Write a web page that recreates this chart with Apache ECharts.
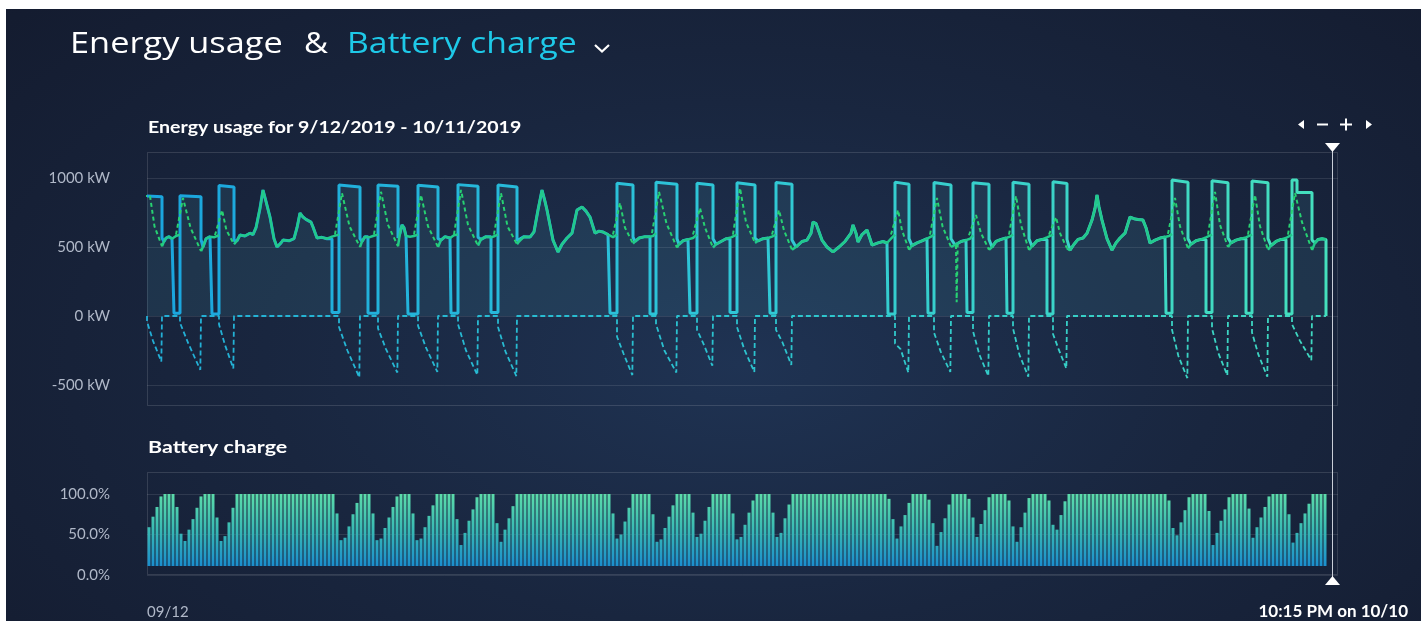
<!DOCTYPE html>
<html>
<head>
<meta charset="utf-8">
<title>Energy usage &amp; Battery charge</title>
<script src="https://cdn.jsdelivr.net/npm/echarts@6/dist/echarts.min.js"></script>
<style>
  html, body { margin: 0; padding: 0; width: 1421px; height: 621px; overflow: hidden; background: #ffffff; }
  #panel { position: absolute; left: 6px; top: 9px; width: 1415px; height: 612px;
    background: radial-gradient(ellipse 75% 95% at 52% 58%, #1f3353 0%, #19263f 45%, #131a2d 100%); }
  #chart { position: absolute; left: 0; top: 0; width: 1421px; height: 621px; }
</style>
</head>
<body>
<div id="panel"></div>
<div id="chart"></div>
<script>
// ---------------------------------------------------------------------------
// Data. Time is in hours from the start of the window (09/12), x axis 0 → 714.6 h.
// ---------------------------------------------------------------------------
const axisEndHour = 714.6;
const dataEndHour = 707.4;

const energyTicks = [-500, 0, 500, 1000];
const chargeTicks = [0, 50, 100];
const startLabel = '09/12';
const cursorLabel = '10:15 PM on 10/10';

// One entry per charge cycle
const lowStart    = [null, 16.2, 39.0, 111.0, 132.6, 156.6, 182.4, 206.4, 277.8, 301.8, 325.8, 349.8, 373.8, 444.6, 468.6, 492.0, 516.0, 540.0, 611.4, 635.4, 659.4, 683.4];
const chargeStart = [0, 19.8, 43.2, 115.2, 138.6, 162.6, 186.6, 210.6, 282.0, 305.4, 330.0, 354.0, 377.4, 448.8, 472.2, 495.6, 519.6, 543.6, 615.0, 639.0, 663.0, 687.0];
const chargeEnd   = [9.0, 32.4, 52.2, 127.8, 150.6, 174.6, 198.6, 222.0, 291.6, 318.0, 339.6, 364.8, 387.0, 457.2, 482.4, 505.2, 529.2, 552.0, 624.6, 648.6, 672.6, 699.0];

// Grid demand (kW) around each cycle
const demandLow     = [null, 20, 15, 25, 20, 15, 20, 25, 20, 15, 20, 25, 20, 15, 20, 25, 20, 15, 20, 25, 20, 15];
const demandTop     = [870, 872, 945, 950, 950, 948, 952, 950, 962, 970, 962, 965, 968, 970, 968, 965, 970, 972, 985, 980, 978, 985];
const demandTopLate = [865, 865, 935, 935, 940, 935, 940, 935, 950, 955, 950, 950, 955, 955, 950, 955, 955, 960, 970, 965, 965, 895];
const demandStepAt  = [null, null, null, null, null, null, null, null, null, null, null, null, null, null, null, null, null, null, null, null, null, 690.0];
const demandAfter   = [565, 555, 545, 560, 565, 560, 570, 545, 572, 560, 560, 565, 550, 560, 560, 555, 560, 555, 560, 565, 560, 550];

// Building load during each cycle (kW)
const loadPeak = [870, 855, 768, 890, 900, 877, 913, 890, 819, 900, 783, 927, 768, 768, 855, 732, 870, 717, 855, 900, 877, 891];
const loadMid  = [650, 640, 620, 650, 660, 650, 660, 650, 640, 670, 640, 680, 620, 620, 650, 600, 660, 600, 650, 660, 650, 680];
const loadDip  = [[485.4, 515], [485.8, 100], [486.4, 515]];

// Battery power during each cycle (kW, negative)
const batteryKwStart = [-40, -50, -60, -80, -90, -70, -60, -80, -150, -60, -100, -80, -100, -200, -120, -110, -90, -130, -100, -90, -120, -60];
const batteryKwMid   = [-180, -200, -210, -250, -240, -230, -250, -260, -270, -250, -200, -240, -190, -240, -260, -280, -280, -240, -290, -270, -280, -180];
const batteryKwEnd   = [-330, -390, -380, -445, -410, -405, -428, -435, -428, -410, -360, -405, -355, -410, -405, -435, -440, -380, -450, -430, -440, -320];

// Building load between cycles: [hour, kW]
const loadSegments = [
  [[9.0,505],[10.2,540],[11.4,565],[13.2,575],[15.0,560],[17.4,580],[19.8,590]],
  [[32.4,470],[33.6,500],[35.4,560],[37.8,575],[40.2,570],[43.2,585]],
  [[52.2,520],[54.0,545],[55.8,587],[58.8,580],[61.8,600],[63.6,590],[65.4,640],[67.8,780],[69.6,913],[71.4,830],[73.8,717],[76.2,560],[78.0,500],[80.4,530],[81.6,550],[85.2,545],[88.2,560],[90.0,640],[91.8,746],[93.6,717],[95.4,700],[96.6,705],[98.4,680],[99.6,645],[102.0,565],[105.0,570],[108.0,560],[111.0,575],[115.2,590]],
  [[127.8,500],[129.0,540],[130.8,575],[133.2,570],[135.6,580],[138.6,590]],
  [[150.6,505],[151.8,600],[153.0,660],[154.2,640],[155.4,580],[157.8,575],[160.2,580],[162.6,590]],
  [[174.6,500],[176.4,550],[178.8,575],[181.8,565],[184.2,585],[186.6,590]],
  [[198.6,510],[200.4,555],[203.4,575],[206.4,570],[208.8,580],[210.6,590]],
  [[222.0,520],[223.2,540],[226.2,575],[229.8,572],[232.2,610],[234.6,768],[237.0,913],[238.8,830],[240.0,768],[243.6,550],[246.6,464],[249.0,520],[252.0,565],[255.0,600],[258.0,768],[261.0,790],[263.4,760],[265.8,717],[268.8,601],[271.2,615],[273.6,609],[276.6,590],[279.6,572],[282.0,590]],
  [[291.6,525],[292.8,540],[295.2,565],[298.8,575],[301.8,575],[303.6,580],[305.4,600]],
  [[318.0,495],[319.2,520],[321.6,545],[324.6,555],[327.6,565],[330.0,590]],
  [[339.6,495],[341.4,520],[344.4,540],[347.4,560],[350.4,570],[354.0,590]],
  [[364.8,530],[366.6,545],[369.6,560],[372.6,565],[375.0,575],[377.4,590]],
  [[387.0,480],[389.4,500],[393.0,540],[396.0,550],[398.4,600],[399.6,681],[401.4,670],[402.6,660],[405.0,550],[408.0,500],[411.6,464],[415.2,500],[418.8,540],[420.0,550],[422.4,600],[423.6,660],[425.4,600],[426.6,536],[429.0,590],[432.0,623],[433.8,560],[435.0,514],[438.6,530],[441.6,540],[444.0,529],[446.4,560],[448.8,590]],
  [[457.2,480],[459.0,510],[462.0,530],[465.0,545],[468.0,560],[470.4,575],[472.2,590]],
  [[482.4,500],[484.8,515],[488.4,540],[491.4,550],[493.8,560],[495.6,585]],
  [[505.2,480],[507.0,500],[509.4,540],[512.4,555],[515.4,565],[517.8,575],[519.6,590]],
  [[529.2,478],[531.0,505],[534.0,545],[537.0,555],[540.0,570],[543.6,590]],
  [[552.0,490],[553.8,478],[556.2,520],[558.6,555],[561.6,565],[564.0,600],[567.0,695],[568.8,780],[570.0,877],[571.2,790],[573.0,695],[576.0,560],[579.0,478],[581.4,530],[583.8,565],[586.8,600],[589.8,717],[592.2,705],[594.6,700],[597.6,695],[599.4,640],[601.8,529],[604.8,550],[607.8,565],[610.8,572],[613.2,580],[615.0,595]],
  [[624.6,490],[626.4,520],[629.4,545],[632.4,555],[635.4,570],[639.0,590]],
  [[648.6,500],[650.4,530],[653.4,550],[656.4,560],[659.4,570],[663.0,590]],
  [[672.6,480],[674.4,510],[677.4,540],[680.4,555],[683.4,565],[687.0,590]],
  [[699.0,478],[700.8,530],[702.6,555],[705.0,560],[707.4,555]]
];

// Battery state of charge (%), one reading every 2.4 h from 1.2 h
const chargeFirstHour = 1.2;
const chargeStepHours = 2.4;
const batteryCharge = [
  59, 72, 84, 97, 100, 100, 100,
  84, 51, 42, 56, 69, 83, 97, 100, 100,
  100, 71, 42, 48, 65, 83, 100,
  100, 100, 100, 100, 100, 100, 100, 100, 100, 100, 100, 100, 100, 100, 100, 100, 100, 100, 100, 100, 100, 100, 100, 100,
  76, 43, 46, 60, 75, 89, 100, 100, 100,
  76, 43, 45, 58, 71, 84, 97, 100, 100, 100,
  76, 43, 45, 59, 73, 86, 100, 100, 100, 100,
  100, 69, 37, 52, 67, 81, 96, 100, 100, 100,
  100, 64, 41, 56, 70, 85, 100,
  100, 100, 100, 100, 100, 100, 100, 100, 100, 100, 100, 100, 100, 100, 100, 100, 100, 100, 100, 100, 100, 100, 100,
  76, 45, 50, 66, 83, 100, 100, 100, 100, 100,
  75, 41, 44, 58, 72, 86, 100, 100, 100, 100,
  77, 47, 51, 67, 84, 100, 100, 100, 100, 100,
  76, 44, 47, 62, 77, 92, 100, 100, 100, 100,
  77, 47, 52, 70, 87, 100,
  100, 100, 100, 100, 100, 100, 100, 100, 100, 100, 100, 100, 100, 100, 100, 100, 100, 100, 100, 100, 100, 100, 100,
  94, 69, 45, 60, 74, 89, 100, 100, 100, 100,
  93, 64, 36, 53, 70, 87, 100, 100, 100, 100,
  94, 71, 47, 63, 80, 96, 100, 100, 100, 100,
  92, 60, 41, 59, 77, 95, 100, 100, 100, 100,
  92, 62, 56, 74, 91, 100,
  100, 100, 100, 100, 100, 100, 100, 100, 100, 100, 100, 100, 100, 100, 100, 100, 100, 100, 100, 100, 100, 100, 100, 100,
  92, 58, 49, 65, 80, 96, 100, 100, 100, 100,
  79, 37, 52, 67, 81, 96, 100, 100, 100, 100,
  82, 46, 59, 71, 84, 97, 100, 100, 100, 100,
  75, 40, 52, 64, 76, 88, 100, 100, 100, 100
];

// ---------------------------------------------------------------------------
// Series builders
// ---------------------------------------------------------------------------
function buildDemand() {
  const pts = [];
  chargeStart.forEach((p, k) => {
    if (lowStart[k] !== null) {
      const prevEnd = chargeEnd[k - 1];
      loadSegments[k - 1].forEach(pt => {
        if (pt[0] > prevEnd && pt[0] < lowStart[k]) pts.push(pt);
      });
      pts.push([lowStart[k], pts[pts.length - 1][1]]);
      pts.push([lowStart[k], demandLow[k]]);
      pts.push([p, demandLow[k]]);
    }
    pts.push([p, demandTop[k]]);
    if (demandStepAt[k] !== null) {
      pts.push([demandStepAt[k], demandTop[k]]);
      pts.push([demandStepAt[k], demandTopLate[k]]);
    }
    pts.push([chargeEnd[k], demandTopLate[k]]);
    pts.push([chargeEnd[k], demandAfter[k]]);
  });
  const tail = loadSegments[loadSegments.length - 1];
  tail.forEach(pt => { if (pt[0] > chargeEnd[chargeEnd.length - 1]) pts.push(pt); });
  pts.push([dataEndHour, pts[pts.length - 1][1]]);
  pts.push([dataEndHour, 0]);
  return pts;
}

function buildLoad() {
  const pts = [];
  loadSegments.forEach(seg => {
    seg.forEach(pt => pts.push(pt));
    pts.push([seg[seg.length - 1][0], null]);
  });
  return pts;
}

function buildLoadDuringCharge() {
  const pts = [];
  chargeStart.forEach((p, k) => {
    const before = k > 0 ? loadSegments[k - 1][loadSegments[k - 1].length - 1][1] : loadPeak[0];
    const e = chargeEnd[k];
    pts.push([p - 2.4, before]);
    pts.push([p + 1.8, loadPeak[k]]);
    pts.push([(p + e) / 2, loadMid[k]]);
    pts.push([e, loadSegments[k][0][1]]);
    pts.push([e, null]);
  });
  loadDip.forEach(pt => pts.push(pt));
  return pts;
}

function buildBatteryPower() {
  const pts = [];
  chargeStart.forEach((p, k) => {
    const e = chargeEnd[k];
    pts.push([p, 0]);
    pts.push([p, batteryKwStart[k]]);
    pts.push([p + (e - p) * 0.4, batteryKwMid[k]]);
    pts.push([e - 0.4, batteryKwEnd[k]]);
    pts.push([e, 0]);
  });
  pts.push([dataEndHour, 0]);
  return pts;
}

function buildCharge() {
  return batteryCharge.map((v, i) => [chargeFirstHour + i * chargeStepHours, v]);
}

// ---------------------------------------------------------------------------
// Chart
// ---------------------------------------------------------------------------
const chart = echarts.init(document.getElementById('chart'), null, { renderer: 'canvas' });

const demandColor = new echarts.graphic.LinearGradient(0, 0, 1, 0, [
  { offset: 0, color: '#1aa4de' },
  { offset: 0.45, color: '#2dc4d8' },
  { offset: 1, color: '#45e0bd' }
]);
const batteryLineColor = new echarts.graphic.LinearGradient(0, 0, 1, 0, [
  { offset: 0, color: '#22aed6' },
  { offset: 0.5, color: '#2bc3cf' },
  { offset: 1, color: '#3fd8c0' }
]);
const barColor = {
  type: 'linear', x: 0, y: 494, x2: 0, y2: 575, global: true,
  colorStops: [
    { offset: 0, color: '#5cdcaa' },
    { offset: 0.45, color: '#38b9b4' },
    { offset: 0.885, color: '#1b8ecd' },
    { offset: 0.886, color: 'rgba(0,0,0,0)' },
    { offset: 1, color: 'rgba(0,0,0,0)' }
  ]
};

const gridLine = 'rgba(255,255,255,0.10)';
const labelColor = '#b0b8c8';
const labelFont = 'Lato';

function heading(text, x, y, font, fill, sx) {
  return { type: 'text', x: x, y: y, scaleX: sx, originX: 0, originY: 0,
    style: { text: text, fill: fill, font: font, align: 'left', verticalAlign: 'middle' } };
}

const option = {
  animation: false,
  backgroundColor: 'transparent',
  grid: [
    { left: 147, top: 178, width: 1191, height: 207 },
    { left: 147, top: 494, width: 1191, height: 81 }
  ],
  xAxis: [
    { gridIndex: 0, type: 'value', min: 0, max: axisEndHour, show: false },
    {
      gridIndex: 1, type: 'value', min: 0, max: axisEndHour, interval: 24,
      axisLine: { show: false }, axisTick: { show: false }, splitLine: { show: false },
      axisLabel: {
        show: true, margin: 30, align: 'left', color: labelColor, fontFamily: labelFont, fontSize: 15,
        showMaxLabel: false,
        formatter: v => (v === 0 ? startLabel : '')
      }
    }
  ],
  yAxis: [
    {
      gridIndex: 0, type: 'value', min: energyTicks[0], max: energyTicks[energyTicks.length - 1], interval: 500,
      axisLine: { show: false }, axisTick: { show: false },
      splitLine: { lineStyle: { color: gridLine, width: 1 } },
      axisLabel: { margin: 37, color: labelColor, fontFamily: labelFont, fontSize: 15, formatter: v => v + ' kW' }
    },
    {
      gridIndex: 1, type: 'value', min: chargeTicks[0], max: chargeTicks[chargeTicks.length - 1], interval: 50,
      axisLine: { show: false }, axisTick: { show: false },
      splitLine: { lineStyle: { color: gridLine, width: 1 } },
      axisLabel: { margin: 37, color: labelColor, fontFamily: labelFont, fontSize: 15, formatter: v => v.toFixed(1) + '%' }
    }
  ],
  series: [
    {
      name: 'Grid demand', type: 'line', xAxisIndex: 0, yAxisIndex: 0,
      data: buildDemand(), symbol: 'none', connectNulls: false,
      lineStyle: { color: demandColor, width: 3 },
      areaStyle: { color: 'rgba(70,150,170,0.22)' },
      z: 2
    },
    {
      name: 'Battery power', type: 'line', xAxisIndex: 0, yAxisIndex: 0,
      data: buildBatteryPower(), symbol: 'none',
      lineStyle: { color: batteryLineColor, width: 1.8, type: [5, 3] },
      z: 3
    },
    {
      name: 'Building load', type: 'line', xAxisIndex: 0, yAxisIndex: 0,
      data: buildLoad(), symbol: 'none', connectNulls: false,
      lineStyle: { color: '#22c98b', width: 2.5 },
      z: 4
    },
    {
      name: 'Building load (charging)', type: 'line', xAxisIndex: 0, yAxisIndex: 0,
      data: buildLoadDuringCharge(), symbol: 'none', connectNulls: false,
      lineStyle: { color: '#27d172', width: 2, type: [4, 3] },
      z: 5
    },
    {
      name: 'Battery charge', type: 'bar', xAxisIndex: 1, yAxisIndex: 1,
      data: buildCharge(), barWidth: 3,
      itemStyle: { color: barColor },
      z: 2
    }
  ],
  graphic: [
    // heading
    heading('Energy usage', 70, 44, '30px "Open Sans"', '#ffffff', 1.145),
    heading('&', 304, 44, '30px "Open Sans"', '#ffffff', 1.1),
    heading('Battery charge', 347, 44, '30px "Open Sans"', '#1ec9e8', 1.125),
    { type: 'polyline', shape: { points: [[595, 45], [602, 51.5], [609, 45]] }, style: { stroke: '#ffffff', lineWidth: 2.2, fill: null } },
    // panel titles
    heading('Energy usage for 9/12/2019 - 10/11/2019', 148, 128, 'bold 17px Lato', '#ffffff', 1.15),
    heading('Battery charge', 148, 448, 'bold 17px Lato', '#ffffff', 1.26),
    // panel frames
    { type: 'rect', shape: { x: 147.5, y: 152.5, width: 1190, height: 253 }, style: { stroke: 'rgba(255,255,255,0.13)', fill: null, lineWidth: 1 }, z: 0 },
    { type: 'rect', shape: { x: 147.5, y: 472.5, width: 1190, height: 102 }, style: { stroke: 'rgba(255,255,255,0.13)', fill: null, lineWidth: 1 }, z: 0 },
    // zoom / pan controls
    { type: 'polygon', shape: { points: [[1298, 124.5], [1304, 120], [1304, 129]] }, style: { fill: '#ffffff' } },
    { type: 'line', shape: { x1: 1317, y1: 124.5, x2: 1328, y2: 124.5 }, style: { stroke: '#ffffff', lineWidth: 2 } },
    { type: 'line', shape: { x1: 1340, y1: 124.5, x2: 1352, y2: 124.5 }, style: { stroke: '#ffffff', lineWidth: 2 } },
    { type: 'line', shape: { x1: 1346, y1: 118.5, x2: 1346, y2: 130.5 }, style: { stroke: '#ffffff', lineWidth: 2 } },
    { type: 'polygon', shape: { points: [[1372, 124.5], [1366, 120], [1366, 129]] }, style: { fill: '#ffffff' } },
    // time cursor
    { type: 'line', shape: { x1: 1332.5, y1: 150, x2: 1332.5, y2: 578 }, style: { stroke: '#c9ced8', lineWidth: 1 }, z: 10 },
    { type: 'polygon', shape: { points: [[1325, 143], [1340, 143], [1332.5, 152]] }, style: { fill: '#ffffff' }, z: 11 },
    { type: 'polygon', shape: { points: [[1332.5, 576], [1325, 585], [1340, 585]] }, style: { fill: '#ffffff' }, z: 11 },
    { type: 'text', x: 1408, y: 612, style: { text: cursorLabel, fill: '#ffffff', font: 'bold 17px Lato', align: 'right', verticalAlign: 'middle' } }
  ]
};

chart.setOption(option);
</script>
</body>
</html>
